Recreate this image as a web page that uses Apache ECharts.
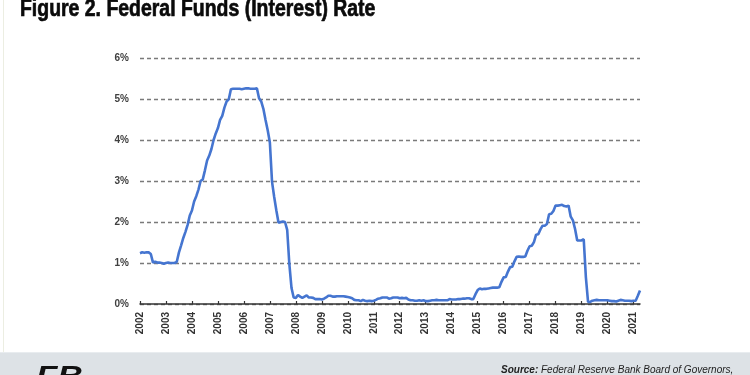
<!DOCTYPE html>
<html>
<head>
<meta charset="utf-8">
<script src="https://cdn.jsdelivr.net/npm/echarts@6/dist/echarts.min.js"></script>
<style>
  html, body { margin: 0; padding: 0; background: #fff; }
  #main { width: 750px; height: 375px; }
</style>
</head>
<body>
<div id="main"></div>
<script>
// monthly rate (%), one array per labelled year
var r2002 = [1.24, 1.26, 1.25, 1.26, 1.26, 1.22, 1.01, 1.03, 1.01, 1.01, 1.00, 0.98];
var r2003 = [1.00, 1.01, 1.00, 1.00, 1.00, 1.03, 1.26, 1.43, 1.61, 1.76, 1.93, 2.16];
var r2004 = [2.28, 2.50, 2.63, 2.79, 3.00, 3.04, 3.26, 3.50, 3.62, 3.78, 4.00, 4.16];
var r2005 = [4.29, 4.49, 4.59, 4.79, 4.94, 4.99, 5.24, 5.25, 5.25, 5.25, 5.25, 5.24];
var r2006 = [5.25, 5.26, 5.26, 5.25, 5.25, 5.25, 5.26, 5.02, 4.94, 4.76, 4.49, 4.24];
var r2007 = [3.94, 2.98, 2.61, 2.28, 1.98, 2.00, 2.01, 2.00, 1.81, 0.97, 0.39, 0.16];
var r2008 = [0.15, 0.22, 0.18, 0.15, 0.18, 0.21, 0.16, 0.16, 0.15, 0.12, 0.12, 0.12];
var r2009 = [0.11, 0.13, 0.16, 0.20, 0.20, 0.18, 0.18, 0.19, 0.19, 0.19, 0.19, 0.18];
var r2010 = [0.17, 0.16, 0.14, 0.10, 0.09, 0.09, 0.07, 0.10, 0.08, 0.07, 0.08, 0.07];
var r2011 = [0.08, 0.10, 0.13, 0.14, 0.16, 0.16, 0.16, 0.13, 0.14, 0.16, 0.16, 0.16];
var r2012 = [0.14, 0.15, 0.14, 0.15, 0.11, 0.09, 0.09, 0.08, 0.08, 0.09, 0.08, 0.09];
var r2013 = [0.07, 0.07, 0.08, 0.09, 0.09, 0.10, 0.09, 0.09, 0.09, 0.09, 0.09, 0.12];
var r2014 = [0.11, 0.11, 0.11, 0.12, 0.12, 0.13, 0.13, 0.14, 0.14, 0.12, 0.12, 0.24];
var r2015 = [0.34, 0.38, 0.36, 0.37, 0.37, 0.38, 0.39, 0.40, 0.40, 0.40, 0.41, 0.54];
var r2016 = [0.65, 0.66, 0.79, 0.90, 0.91, 1.04, 1.15, 1.16, 1.15, 1.15, 1.16, 1.30];
var r2017 = [1.41, 1.42, 1.51, 1.69, 1.70, 1.82, 1.91, 1.91, 1.95, 2.19, 2.20, 2.27];
var r2018 = [2.40, 2.40, 2.41, 2.42, 2.39, 2.38, 2.40, 2.13, 2.04, 1.83, 1.55, 1.55];
var r2019 = [1.55, 1.58, 0.65, 0.05, 0.05, 0.08, 0.09, 0.10, 0.09, 0.09, 0.09, 0.09];
var r2020 = [0.09, 0.08, 0.07, 0.07, 0.06, 0.08, 0.10, 0.09, 0.08, 0.08, 0.08, 0.07];
var r2021 = [0.08, 0.08, 0.20, 0.33];

var years = [2002, 2003, 2004, 2005, 2006, 2007, 2008, 2009, 2010, 2011,
             2012, 2013, 2014, 2015, 2016, 2017, 2018, 2019, 2020, 2021];
var yTicks = [0, 1, 2, 3, 4, 5, 6];

var byYear = [r2002, r2003, r2004, r2005, r2006, r2007, r2008, r2009, r2010, r2011,
              r2012, r2013, r2014, r2015, r2016, r2017, r2018, r2019, r2020, r2021];

var months = [], rates = [];
years.forEach(function (y, i) {
  byYear[i].forEach(function (v, m) {
    months.push(y + '-' + (m + 1));
    rates.push(v);
  });
});

var chart = echarts.init(document.getElementById('main'));
var option = {
  backgroundColor: '#fff',
  animation: false,
  grid: { left: 140, right: 110, top: 58, bottom: 71 },
  xAxis: {
    type: 'category',
    data: months,
    boundaryGap: false,
    axisLine: { lineStyle: { color: '#333', width: 1.5 } },
    axisTick: {
      inside: true, length: 3,
      lineStyle: { color: '#333', width: 1.2 },
      interval: function (i) { return i % 12 === 0; }
    },
    axisLabel: {
      rotate: 90,
      margin: 8,
      color: '#333',
      fontSize: 10,
      fontWeight: 'bold',
      fontFamily: 'Liberation Sans',
      interval: function (i) { return i % 12 === 0; },
      formatter: function (v) { return v.split('-')[0]; }
    },
    splitLine: { show: false }
  },
  yAxis: {
    type: 'value',
    min: yTicks[0],
    max: yTicks[yTicks.length - 1],
    interval: 1,
    axisLine: { show: false },
    axisTick: { show: false },
    axisLabel: {
      margin: 11,
      color: '#404040',
      fontSize: 10,
      fontWeight: 'bold',
      fontFamily: 'Liberation Sans',
      formatter: '{value}%'
    },
    splitLine: { lineStyle: { color: '#7a7a7a', width: 1.3, type: [4, 3] } }
  },
  series: [{
    type: 'line',
    data: rates,
    showSymbol: false,
    lineStyle: { color: '#4575d0', width: 2.6 },
    z: 3
  }],
  graphic: [
    { type: 'rect', shape: { x: 3, y: 0, width: 1, height: 352 }, style: { fill: '#eceee2' }, silent: true },
    {
      type: 'text', x: 20, y: -3, scaleX: 0.81,
      style: {
        text: 'Figure 2. Federal Funds (Interest) Rate',
        fill: '#0a0a0a',
        stroke: '#0a0a0a',
        lineWidth: 0.7,
        font: 'bold 24px "Liberation Sans", sans-serif',
        verticalAlign: 'top'
      }
    },
    { type: 'rect', shape: { x: 0, y: 352, width: 750, height: 23 }, style: { fill: '#dde2e6' }, silent: true },
    { type: 'rect', shape: { x: 0, y: 352, width: 750, height: 1 }, style: { fill: '#e8ecef' }, silent: true },
    {
      type: 'text', x: 36, y: 363, scaleX: 1.25,
      style: {
        text: 'FB',
        fill: '#111',
        font: 'italic 900 28px "Liberation Sans", sans-serif',
        verticalAlign: 'top'
      }
    },
    {
      type: 'text', left: 501, top: 365,
      style: {
        text: '{b|Source:} Federal Reserve Bank Board of Governors,',
        fill: '#222',
        font: 'italic 10px "Liberation Sans", sans-serif',
        rich: { b: { fontWeight: 'bold', fontStyle: 'italic', fontSize: 10, fill: '#222' } }
      }
    }
  ]
};
chart.setOption(option);
</script>
</body>
</html>
